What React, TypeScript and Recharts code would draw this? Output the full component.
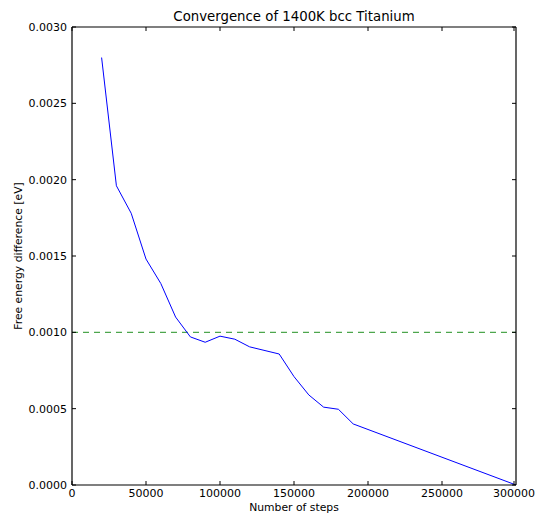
import React from 'react';
import { LineChart, Line, XAxis, YAxis, ReferenceLine, Label } from 'recharts';

// Free energy difference versus simulation length
const steps = [20000, 30000, 40000, 50000, 60000, 70000, 80000, 90000, 100000, 110000, 120000, 140000, 150000, 160000, 170000, 180000, 190000, 300000];
const energy = [0.0028, 0.00196, 0.00178, 0.00148, 0.00132, 0.0011, 0.00097, 0.000935, 0.000975, 0.000955, 0.000905, 0.000858, 0.00071, 0.00059, 0.00051, 0.000496, 0.0004, 0.0];

const xTicks = [0, 50000, 100000, 150000, 200000, 250000, 300000];
const yTicks = [0, 0.0005, 0.001, 0.0015, 0.002, 0.0025, 0.003];
const threshold = 0.001;

const data = steps.map((s, i) => ({ steps: s, energy: energy[i] }));

const FONT = '"DejaVu Sans", sans-serif';
const TICK_LEN = 4;
const FRAME = { stroke: '#000', strokeWidth: 1.2 };

// ticks point into the plot box, matplotlib style
const LeftTick = ({ x, y, payload }: any) => (
  <g>
    <line x1={x} x2={x + TICK_LEN} y1={y} y2={y} stroke="#000" />
    <text x={x - 5} y={y + 4} textAnchor="end" fontSize={11} fontFamily={FONT} fill="#000">
      {Number(payload.value).toFixed(4)}
    </text>
  </g>
);

const BottomTick = ({ x, y, payload }: any) => (
  <g>
    <line x1={x} x2={x} y1={y} y2={y - TICK_LEN} stroke="#000" />
    <text x={x} y={y + 12} textAnchor="middle" fontSize={11} fontFamily={FONT} fill="#000">
      {payload.value}
    </text>
  </g>
);

const RightTick = ({ x, y }: any) => <line x1={x} x2={x - TICK_LEN} y1={y} y2={y} stroke="#000" />;

const TopTick = ({ x, y }: any) => <line x1={x} x2={x} y1={y} y2={y + TICK_LEN} stroke="#000" />;

const App = () => {
  return (
    <div style={{ position: 'absolute', left: 0, top: 0, background: '#fff' }}>
      <LineChart width={538} height={515} data={data} margin={{ top: 26, right: 21, bottom: 0, left: 12 }}>
        <XAxis
          dataKey="steps"
          type="number"
          domain={[0, 300000]}
          ticks={xTicks}
          allowDataOverflow
          height={30}
          tickSize={0}
          tickMargin={0}
          tickLine={false}
          axisLine={FRAME}
          tick={<BottomTick />}
        >
          <Label
            content={({ viewBox }: any) => (
              <text
                x={viewBox.x + viewBox.width / 2}
                y={viewBox.y + 26}
                textAnchor="middle"
                fontSize={10.8}
                fontFamily={FONT}
                fill="#000"
              >
                Number of steps
              </text>
            )}
          />
        </XAxis>
        <XAxis
          xAxisId="top"
          orientation="top"
          dataKey="steps"
          type="number"
          domain={[0, 300000]}
          ticks={xTicks}
          allowDataOverflow
          height={1}
          tickSize={0}
          tickMargin={0}
          tickLine={false}
          axisLine={FRAME}
          tick={<TopTick />}
        >
          <Label
            content={({ viewBox }: any) => (
              <text
                x={viewBox.x + viewBox.width / 2}
                y={viewBox.y - 5}
                textAnchor="middle"
                fontSize={13.3}
                fontFamily={FONT}
                fill="#000"
              >
                Convergence of 1400K bcc Titanium
              </text>
            )}
          />
        </XAxis>
        <YAxis
          type="number"
          domain={[0, 0.003]}
          ticks={yTicks}
          allowDataOverflow
          width={60}
          tickSize={0}
          tickMargin={0}
          tickLine={false}
          axisLine={FRAME}
          tick={<LeftTick />}
        >
          <Label
            content={({ viewBox }: any) => {
              const cx = viewBox.x + 10;
              const cy = viewBox.y + viewBox.height / 2;
              return (
                <text
                  x={cx}
                  y={cy}
                  transform={`rotate(-90, ${cx}, ${cy})`}
                  textAnchor="middle"
                  fontSize={10.8}
                  fontFamily={FONT}
                  fill="#000"
                >
                  Free energy difference [eV]
                </text>
              );
            }}
          />
        </YAxis>
        <YAxis
          yAxisId="right"
          orientation="right"
          type="number"
          domain={[0, 0.003]}
          ticks={yTicks}
          allowDataOverflow
          width={1}
          tickSize={0}
          tickMargin={0}
          tickLine={false}
          axisLine={FRAME}
          tick={<RightTick />}
        />
        <ReferenceLine y={threshold} stroke="#4da64d" strokeDasharray="6 5" strokeWidth={1.3} />
        {/* invisible series bound to the top and right frame axes */}
        <Line
          xAxisId="top"
          yAxisId="right"
          type="linear"
          dataKey="energy"
          stroke="none"
          dot={false}
          activeDot={false}
          legendType="none"
          isAnimationActive={false}
        />
        <Line
          type="linear"
          dataKey="energy"
          stroke="#0000ff"
          strokeWidth={1}
          dot={false}
          isAnimationActive={false}
        />
      </LineChart>
    </div>
  );
};

export default App;
